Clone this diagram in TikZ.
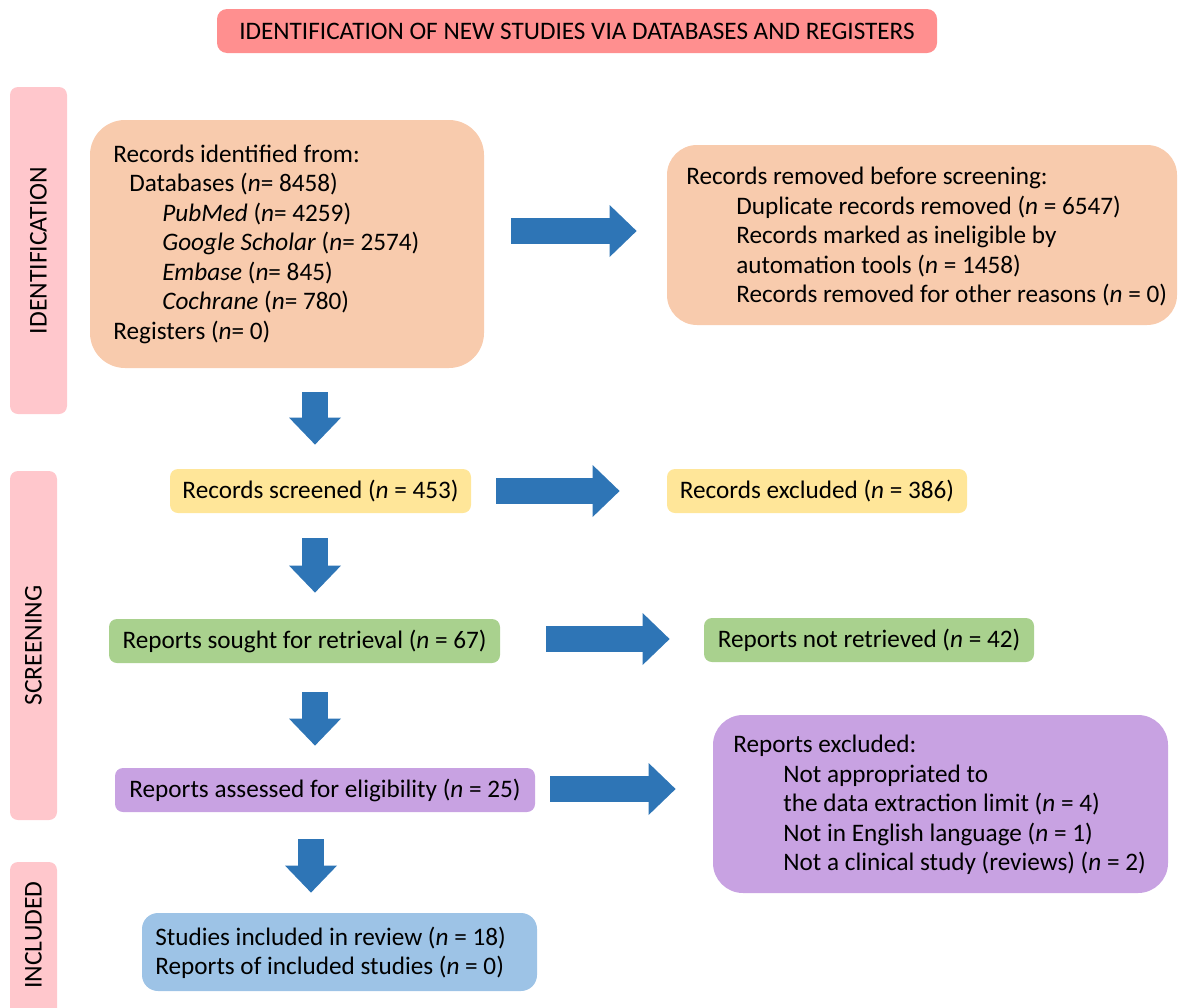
\documentclass[tikz,border=0pt]{standalone}
\usepackage{fontspec}
\setmainfont{Carlito}
\usetikzlibrary{arrows.meta,calc,positioning}

\definecolor{titlered}{HTML}{FF8F8F}
\definecolor{bandpink}{HTML}{FFC7CC}
\definecolor{peach}{HTML}{F8CBAD}
\definecolor{paleyellow}{HTML}{FFE699}
\definecolor{palegreen}{HTML}{A9D18E}
\definecolor{lilac}{HTML}{C8A2E2}
\definecolor{paleblue}{HTML}{9DC3E6}
\definecolor{arrowblue}{HTML}{2E75B6}

\tikzset{
  flowbox/.style={rectangle, rounded corners=4pt, inner sep=0pt,
    font=\fontsize{12.6}{14.75}\selectfont},
  band/.style={rectangle, rounded corners=4pt, fill=bandpink},
  bandlabel/.style={rotate=90, inner sep=0pt, font=\fontsize{12.8}{14}\selectfont},
  boxtext/.style={anchor=west, align=left, inner sep=0pt,
    font=\fontsize{12.6}{14.75}\selectfont},
  bigarrow/.style={arrowblue, line width=13pt,
    -{Triangle[width=26pt,length=13.5pt,line width=0pt]}}
}

\begin{document}
\begin{tikzpicture}[x=0.5pt,y=-0.5pt]
  \useasboundingbox (0,0) rectangle (1178,1007);

  % title and side bands
  \node[flowbox, fill=titlered, rounded corners=5pt, minimum width=360pt, minimum height=22pt]
    (title) at (577,31) {IDENTIFICATION OF NEW STUDIES VIA DATABASES AND REGISTERS};
  \node[band, minimum width=28.5pt, minimum height=163.5pt] (idband) at (38.5,250.5) {};
  \node[band, minimum width=23.5pt, minimum height=174.5pt] (scband) at (33.5,645.5) {};
  \node[band, minimum width=23.5pt, minimum height=77pt] (inband) at (33.5,939) {};
  \node[bandlabel] (idlabel) at (idband.center) {IDENTIFICATION};
  \node[bandlabel] (sclabel) at (scband.center) {SCREENING};
  \node[bandlabel] (inlabel) at (33.5,935) {INCLUDED};

  % identification
  \node[flowbox, fill=peach, rounded corners=17.5pt, minimum width=197pt, minimum height=124pt]
    (idbox) at (287,244) {};
  \node[boxtext] (idtext) at (113,244) {Records identified from:\\
    \hspace*{8pt}Databases (\textit{n}= 8458)\\
    \hspace*{24.5pt}\textit{PubMed} (\textit{n}= 4259)\\
    \hspace*{24.5pt}\textit{Google Scholar} (\textit{n}= 2574)\\
    \hspace*{24.5pt}\textit{Embase} (\textit{n}= 845)\\
    \hspace*{24.5pt}\textit{Cochrane} (\textit{n}= 780)\\
    Registers (\textit{n}= 0)};
  \node[flowbox, fill=peach, rounded corners=15pt, minimum width=255pt, minimum height=90pt]
    (rmbox) at (922,235) {};
  \node[boxtext] (rmtext) at (686,236.5) {Records removed before screening:\\
    \hspace*{25pt}Duplicate records removed (\textit{n} = 6547)\\
    \hspace*{25pt}Records marked as ineligible by\\
    \hspace*{25pt}automation tools (\textit{n} = 1458)\\
    \hspace*{25pt}Records removed for other reasons (\textit{n} = 0)};

  % screening
  \node[flowbox, fill=paleyellow, minimum width=150.5pt, minimum height=22pt]
    (scr) at (320.5,491) {Records screened (\textit{n} = 453)};
  \node[flowbox, fill=paleyellow, minimum width=150pt, minimum height=22pt]
    (exc) at (817,491) {Records excluded (\textit{n} = 386)};
  \node[flowbox, fill=palegreen, minimum width=195.5pt, minimum height=22pt]
    (sought) at (304.5,641) {Reports sought for retrieval (\textit{n} = 67)};
  \node[flowbox, fill=palegreen, minimum width=165pt, minimum height=22pt]
    (notret) at (869,640) {Reports not retrieved (\textit{n} = 42)};
  \node[flowbox, fill=lilac, minimum width=210pt, minimum height=22pt]
    (assess) at (325,790) {Reports assessed for eligibility (\textit{n} = 25)};
  \node[flowbox, fill=lilac, rounded corners=15pt, minimum width=227.5pt, minimum height=89pt]
    (exbox) at (940.5,804) {};
  \node[boxtext] (extext) at (733,805) {Reports excluded:\\
    \hspace*{25pt}Not appropriated to\\
    \hspace*{25pt}the data extraction limit (\textit{n} = 4)\\
    \hspace*{25pt}Not in English language (\textit{n} = 1)\\
    \hspace*{25pt}Not a clinical study (reviews) (\textit{n} = 2)};

  % included
  \node[flowbox, fill=paleblue, rounded corners=8pt, minimum width=197.5pt, minimum height=39pt]
    (inbox) at (339.5,952) {};
  \node[boxtext] (intext) at (155,953) {Studies included in review (\textit{n} = 18)\\
    Reports of included studies (\textit{n} = 0)};

  % block arrows
  \draw[bigarrow] ([shift={(27,-13)}]idbox.east) -- ([shift={(-30,-4)}]rmbox.west);
  \draw[bigarrow] ([shift={(25,0)}]scr.east) -- ([shift={(-47,0)}]exc.west);
  \draw[bigarrow] ([shift={(46,-2)}]sought.east) -- ([shift={(-34,-1)}]notret.west);
  \draw[bigarrow] ([shift={(15,-1)}]assess.east) -- ([shift={(-37,-15)}]exbox.west);
  \draw[bigarrow] ([shift={(28,24)}]idbox.south) -- ([shift={(-5.5,-24)}]scr.north);
  \draw[bigarrow] ([shift={(-5.5,25)}]scr.south) -- ([shift={(10.5,-26)}]sought.north);
  \draw[bigarrow] ([shift={(10.5,29)}]sought.south) -- ([shift={(-10,-22)}]assess.north);
  \draw[bigarrow] ([shift={(-14,27)}]assess.south) -- ([shift={(-28.5,-20)}]inbox.north);
\end{tikzpicture}
\end{document}
